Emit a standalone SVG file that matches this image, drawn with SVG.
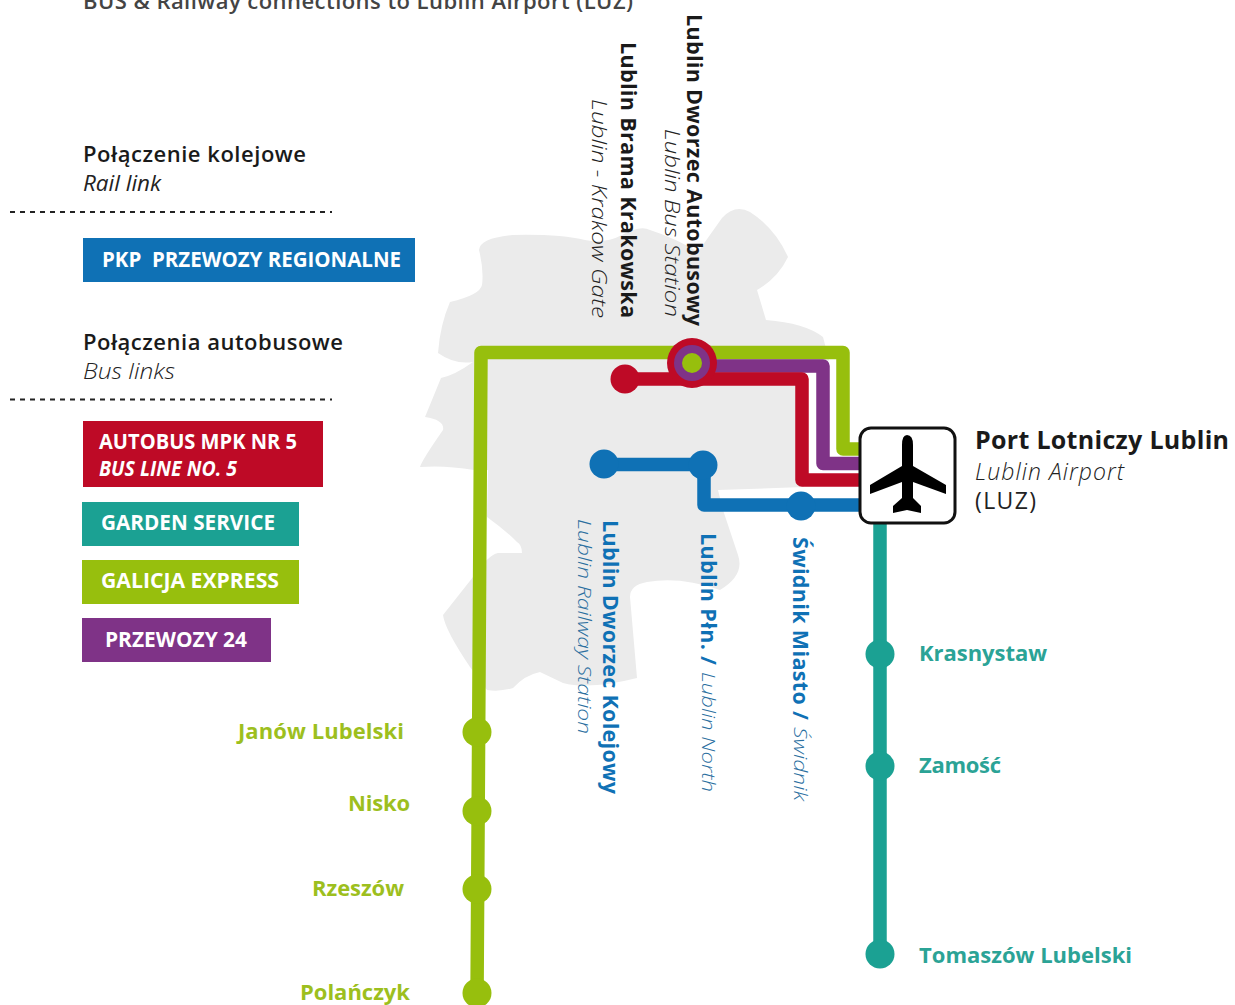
<svg xmlns="http://www.w3.org/2000/svg" width="1235" height="1005" viewBox="0 0 1235 1005">
<style>
text{font-family:"Open Sans","Liberation Sans",sans-serif;white-space:pre}
.b{font-weight:600;fill:#1a1a1a;font-size:22px}
.i{font-style:italic;font-weight:300;fill:#222;font-size:22px}
.lg{font-weight:700;fill:#fff;font-size:22px}
.line{fill:none;stroke-width:13.500;stroke-linejoin:round}
.sb{font-weight:700;fill:#0f71b5;font-size:21.500px}
.si{font-style:italic;font-weight:300;fill:#2b6f9f;font-size:19px}
.gn{font-weight:700;fill:#9dbf1e;font-size:22px}
.tl{font-weight:700;fill:#2ba396;font-size:22px}
.dash{stroke:#222;stroke-width:2;stroke-dasharray:5 5;fill:none}
.g{fill:#97bf0d}.t{fill:#1ba193}.bl{fill:#0f71b5}
</style>
<path id="map" fill="#ebebeb" d="M479,250Q480,238 513,235Q560,234 585,240Q605,244 622,235Q640,225 650,230Q675,238 698,252Q712,232 722,218Q735,204 750,212Q775,228 788,257Q778,278 757,290L766,320Q805,323 823,337L829,360L823,372L805,373L804,487L718,490L723,510L738,555Q745,575 720,590Q680,576 647,582Q630,585 630,597L637,678Q590,690 563,683L540,672Q525,675 513,688Q500,692 487,690L470,667Q445,630 443,615L473,577Q488,555 498,553L522,553Q522,545 517,542Q505,530 487,517L488,470L474,470Q445,465 420,467Q422,460 443,430Q445,420 425,417L441,378Q455,375 473,362Q455,365 438,353Q440,325 450,302Q480,295 482,285Q484,270 479,250Z"/>
<g id="header">
<text x="83" y="9" font-size="22" font-weight="600" fill="#444" textLength="550" lengthAdjust="spacing">BUS &amp; Railway connections to Lublin Airport (LUZ)</text>
</g>
<g id="legend-rail">
<text class="b" x="83" y="162" textLength="223" lengthAdjust="spacing">Połączenie kolejowe</text>
<text class="i" x="83" y="191" style="font-weight:400" textLength="78" lengthAdjust="spacingAndGlyphs">Rail link</text>
<path class="dash" d="M10,212H332"/>
<rect x="83" y="238" width="332" height="44" fill="#0f71b5"/>
<text class="lg" x="102" y="267" textLength="299" lengthAdjust="spacingAndGlyphs">PKP  PRZEWOZY REGIONALNE</text>
</g>
<g id="legend-bus">
<text class="b" x="83" y="350" textLength="260" lengthAdjust="spacing">Połączenia autobusowe</text>
<text class="i" x="83" y="379" textLength="92" lengthAdjust="spacingAndGlyphs">Bus links</text>
<path class="dash" d="M10,399.500H332"/>
<rect x="83" y="421" width="240" height="66" fill="#be0a26"/>
<text class="lg" x="99" y="449" textLength="198" lengthAdjust="spacingAndGlyphs">AUTOBUS MPK NR 5</text>
<text class="lg" x="99" y="476" font-style="italic" style="font-size:21px" textLength="138" lengthAdjust="spacingAndGlyphs">BUS LINE NO. 5</text>
<rect x="82" y="502" width="217" height="44" fill="#1ba193"/>
<text class="lg" x="101" y="530" textLength="174" lengthAdjust="spacingAndGlyphs">GARDEN SERVICE</text>
<rect x="82" y="560" width="217" height="44" fill="#97bf0d"/>
<text class="lg" x="101" y="588" textLength="178" lengthAdjust="spacingAndGlyphs">GALICJA EXPRESS</text>
<rect x="82" y="618" width="189" height="44" fill="#7f3387"/>
<text class="lg" x="105" y="647" textLength="142" lengthAdjust="spacingAndGlyphs">PRZEWOZY 24</text>
</g>
<g id="connectors">
<path class="line" stroke="#97bf0d" d="M477,1000L481,352.500H843V449H862"/>
<path class="line" stroke="#7f3387" d="M700,366H823V463.500H862"/>
<path class="line" stroke="#be0a26" d="M625,379H802V480H862"/>
<path class="line" stroke="#0f71b5" d="M604,464.500H704V505H862"/>
<path class="line" stroke="#1ba193" d="M880,520V954"/>
</g>
<g id="station-autobusowy">
<circle cx="692" cy="363" r="25" fill="#be0a26"/><circle cx="692" cy="363" r="18" fill="#7f3387"/><circle cx="692" cy="363" r="10" class="g"/>
<text class="b" style="font-size:21.500px;font-weight:700" transform="translate(687,14) rotate(90)" textLength="312" lengthAdjust="spacing">Lublin Dworzec Autobusowy</text>
<text class="i" style="font-size:21px" transform="translate(665,129) rotate(90)" textLength="188" lengthAdjust="spacingAndGlyphs">Lublin Bus Station</text>
</g>
<g id="station-brama">
<circle cx="625" cy="379" r="14.500" fill="#be0a26"/>
<text class="b" style="font-size:21.500px;font-weight:700" transform="translate(621,42) rotate(90)" textLength="276" lengthAdjust="spacing">Lublin Brama Krakowska</text>
<text class="i" style="font-size:21px" transform="translate(592,99) rotate(90)" textLength="219" lengthAdjust="spacingAndGlyphs">Lublin - Krakow Gate</text>
</g>
<g id="station-kolejowy">
<circle cx="604" cy="464" r="14.500" class="bl"/>
<text class="sb" transform="translate(603,520) rotate(90)" textLength="274" lengthAdjust="spacing">Lublin Dworzec Kolejowy</text>
<text class="si" transform="translate(578,519) rotate(90)" textLength="215" lengthAdjust="spacingAndGlyphs">Lublin Railway Station</text>
</g>
<g id="station-polnoc">
<circle cx="703" cy="465" r="14.500" class="bl"/>
<text class="sb" transform="translate(701,533) rotate(90)" textLength="132" lengthAdjust="spacing">Lublin Płn. /</text>
<text class="si" transform="translate(702,672) rotate(90)" textLength="120" lengthAdjust="spacingAndGlyphs">Lublin North</text>
</g>
<g id="station-swidnik">
<circle cx="801" cy="506" r="14.500" class="bl"/>
<text class="sb" transform="translate(793,537) rotate(90)" textLength="183" lengthAdjust="spacing">Świdnik Miasto /</text>
<text class="si" transform="translate(794,727) rotate(90)" textLength="74" lengthAdjust="spacingAndGlyphs">Świdnik</text>
</g>
<g id="airport">
<rect x="860" y="428" width="95" height="95" rx="11" fill="#fff" stroke="#111" stroke-width="3"/>
<path fill="#000" d="M907,435Q913,435 913,445V466L946,485V494L913,482V498L921,506V513L907,510L893,513V506L902,498V482L870,494V485L902,466V445Q902,435 907,435Z"/>
<text x="975" y="449" font-size="25" font-weight="700" fill="#1a1a1a" textLength="254" lengthAdjust="spacing">Port Lotniczy Lublin</text>
<text x="975" y="480" font-size="23" font-style="italic" font-weight="300" fill="#222" textLength="149" lengthAdjust="spacing">Lublin Airport</text>
<text x="975" y="509" font-size="23" fill="#222" textLength="61" lengthAdjust="spacing">(LUZ)</text>
</g>
<g id="stop-krasnystaw"><circle cx="880" cy="654" r="14.500" class="t"/><text class="tl" x="919" y="661" textLength="128" lengthAdjust="spacing">Krasnystaw</text></g>
<g id="stop-zamosc"><circle cx="880" cy="766" r="14.500" class="t"/><text class="tl" x="919" y="773" textLength="82" lengthAdjust="spacing">Zamość</text></g>
<g id="stop-tomaszow"><circle cx="880" cy="954" r="14.500" class="t"/><text class="tl" x="919" y="963" textLength="213" lengthAdjust="spacing">Tomaszów Lubelski</text></g>
<g id="stop-janow"><circle cx="477" cy="732" r="14.500" class="g"/><text class="gn" x="238" y="739" textLength="166" lengthAdjust="spacing">Janów Lubelski</text></g>
<g id="stop-nisko"><circle cx="477" cy="811" r="14.500" class="g"/><text class="gn" x="348" y="811" textLength="62" lengthAdjust="spacing">Nisko</text></g>
<g id="stop-rzeszow"><circle cx="477" cy="889" r="14.500" class="g"/><text class="gn" x="312" y="896" textLength="92" lengthAdjust="spacing">Rzeszów</text></g>
<g id="stop-polanczyk"><circle cx="477" cy="993" r="14.500" class="g"/><text class="gn" x="300" y="1000" textLength="110" lengthAdjust="spacing">Polańczyk</text></g>
</svg>
